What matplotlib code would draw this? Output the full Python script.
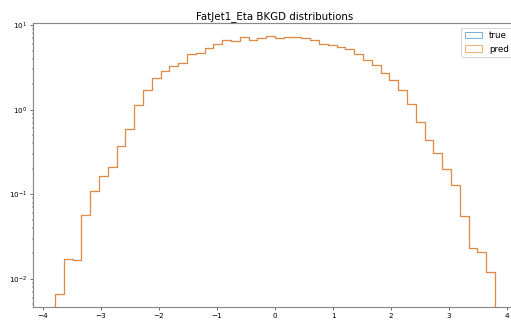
import numpy as np
import matplotlib
matplotlib.use("Agg")
import matplotlib.pyplot as plt

# 50 bins of FatJet1 eta, bin contents (density)
eta_lo, eta_hi = -3.79, 3.79
n_bins = 50
bkgd_density = [
    0.0067, 0.017, 0.0166, 0.0575, 0.109, 0.166, 0.21, 0.377, 0.587, 1.15,
    1.72, 2.35, 2.90, 3.29, 3.60, 4.56, 4.72, 5.30, 6.03, 6.70,
    6.55, 7.15, 6.75, 7.10, 7.40, 7.08, 7.30, 7.30, 7.08, 6.64,
    5.97, 5.80, 5.55, 5.16, 4.56, 3.90, 3.40, 2.70, 2.25, 1.69,
    1.18, 0.72, 0.435, 0.309, 0.200, 0.129, 0.0556, 0.0232, 0.0208, 0.0121,
]

edges = np.linspace(eta_lo, eta_hi, n_bins + 1)
centers = 0.5 * (edges[:-1] + edges[1:])

s = 0.73  # shrink factor for the saved size
fig = plt.figure(figsize=(511 / 72, 323 / 72), dpi=72)
ax = fig.add_axes([33 / 511, 16.3 / 323, 484 / 511, 283.4 / 323])

# true and pred are identical here, pred drawn on top
ax.hist(centers, bins=edges, weights=bkgd_density, histtype="step",
        label="true", color="C0", linewidth=0.8)
ax.hist(centers, bins=edges, weights=bkgd_density, histtype="step",
        label="pred", color="#e08a45", linewidth=1.3)

ax.set_yscale("log")
ax.set_ylim(0.0047, 10.5)
ax.set_xlim(-4.169, 4.169)
ax.set_xticks([-4, -3, -2, -1, 0, 1, 2, 3, 4])

ax.set_title("FatJet1_Eta BKGD distributions", fontsize=14 * s, pad=6 * s)
ax.tick_params(labelsize=10 * s, width=0.8 * s, length=3.5 * s)
ax.tick_params(which="minor", width=0.6 * s, length=2 * s)
for sp in ax.spines.values():
    sp.set_linewidth(1.6 * s)
    sp.set_color("#888888")

leg = ax.legend(loc="upper right", fontsize=12 * s, handlelength=2.0)
for h, c in zip(leg.get_patches(), ["#7fb0d8", "#f5b070"]):
    h.set_edgecolor(c)
    h.set_linewidth(1.0)

fig.savefig("out.png", dpi=72)
